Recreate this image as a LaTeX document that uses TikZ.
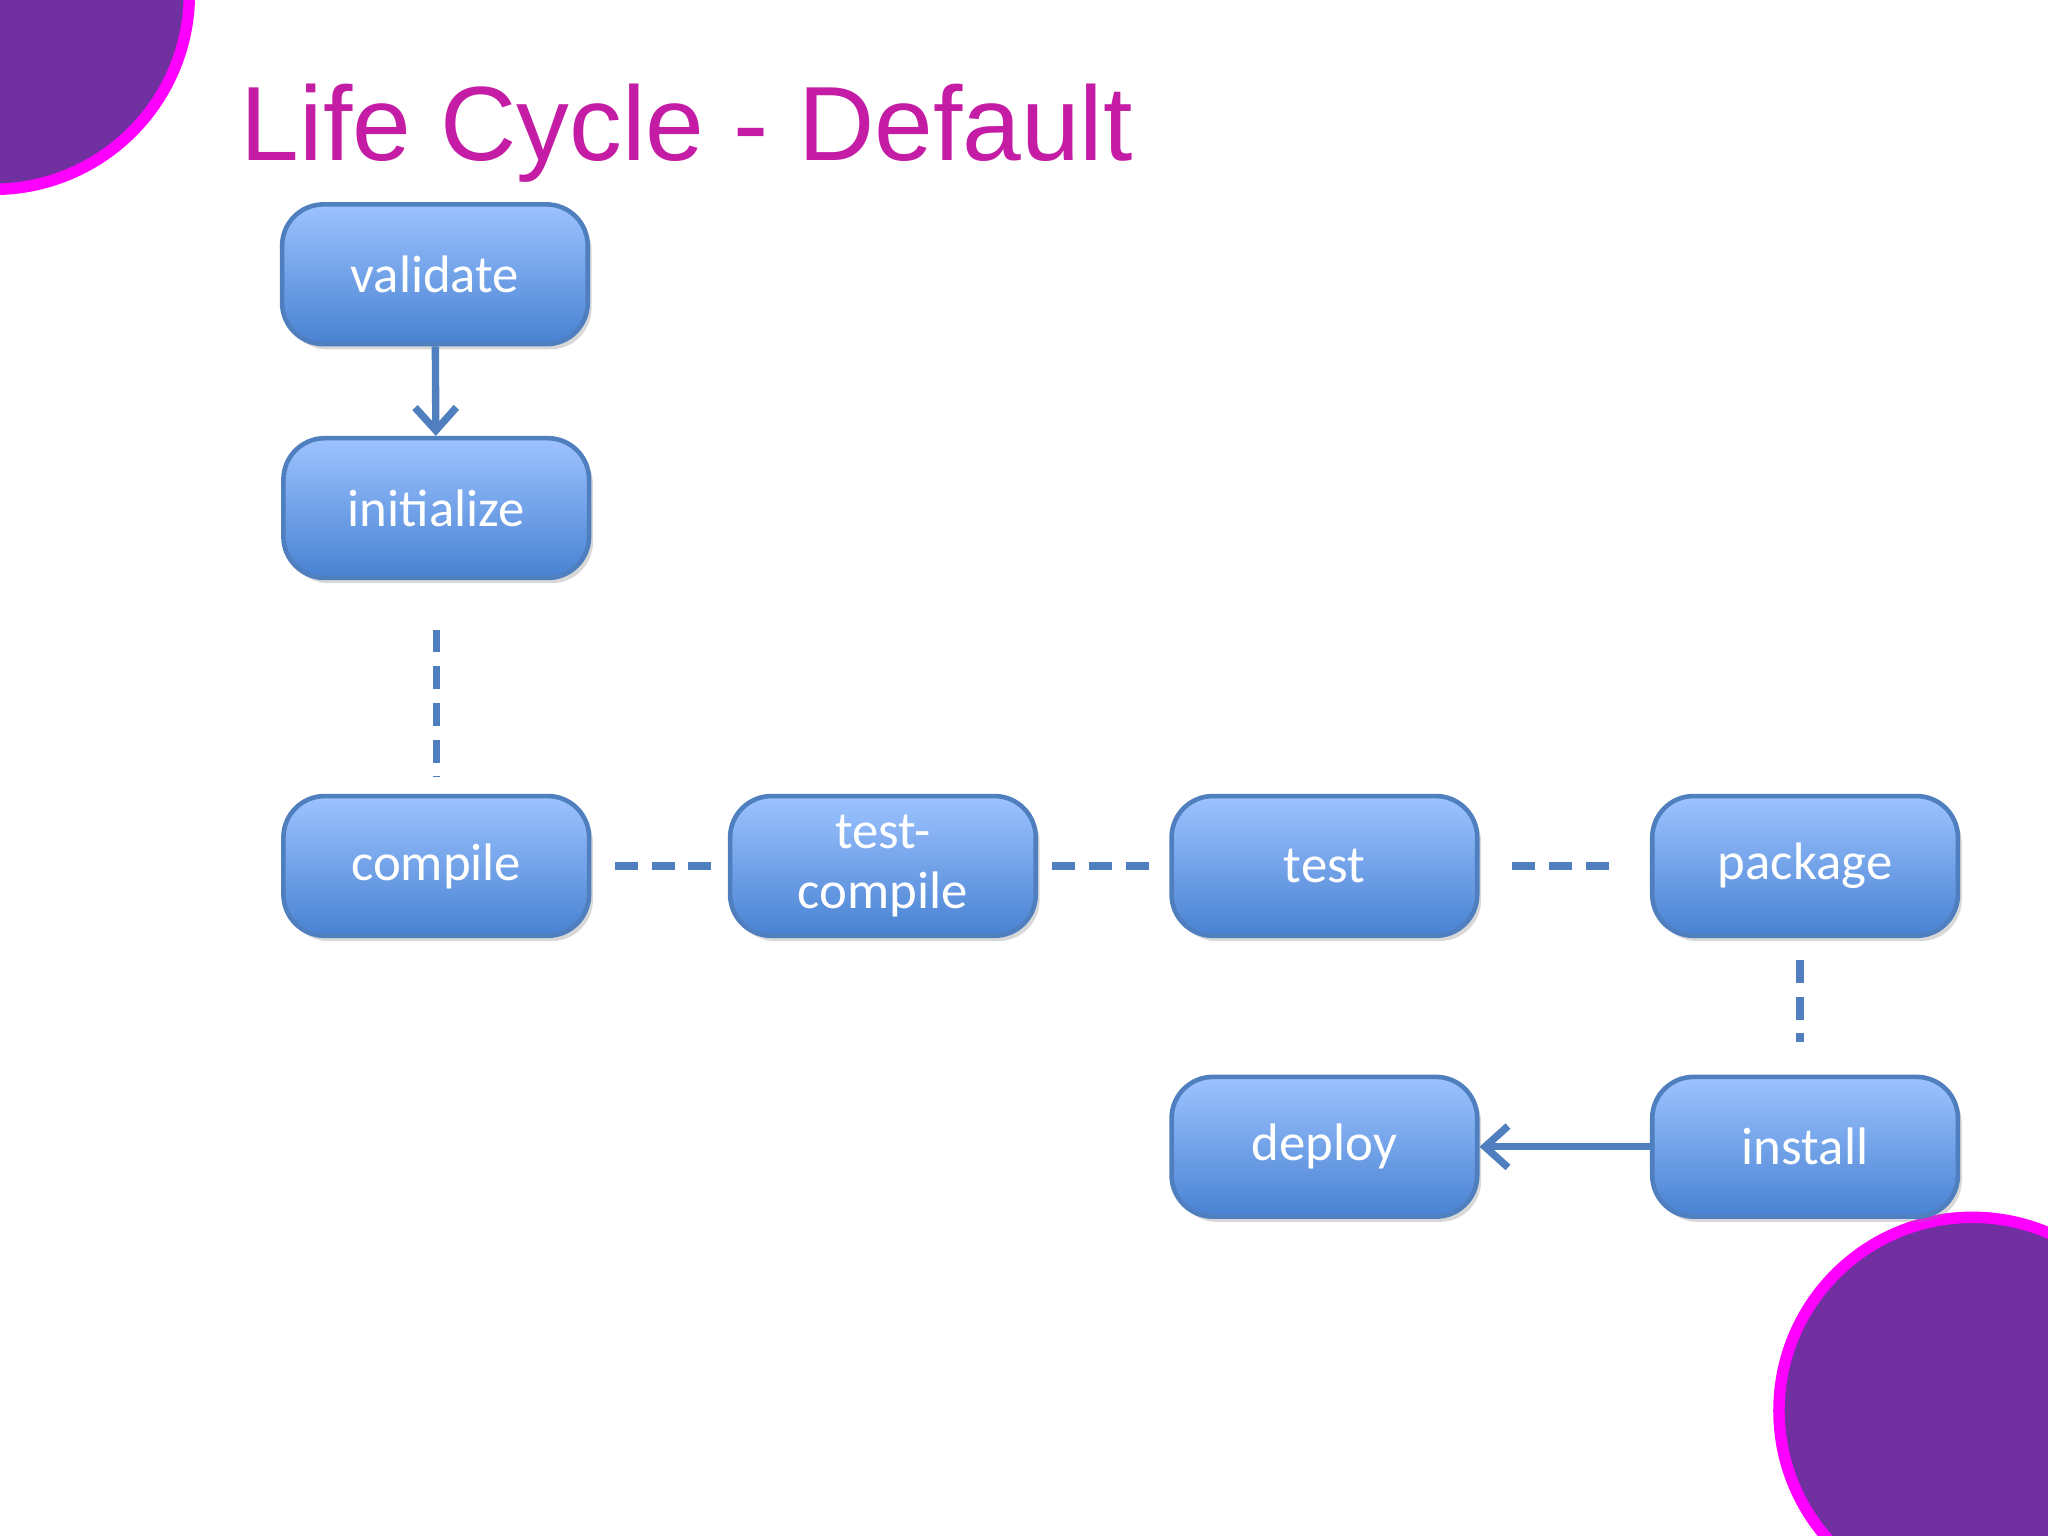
\documentclass[tikz,border=0pt]{standalone}
\usepackage{fontspec}
\setmainfont{Carlito}
\newfontfamily\titlefont{Liberation Sans}
\usetikzlibrary{shadows,arrows.meta}
\definecolor{boxtop}{HTML}{9DC3FF}
\definecolor{boxbot}{HTML}{4882D2}
\definecolor{edge}{HTML}{4F7FBE}
\definecolor{purp}{HTML}{7030A0}
\definecolor{mag}{HTML}{FF00FF}
\definecolor{ttl}{HTML}{C41CA4}
\tikzset{
 box/.style={rounded corners=9pt, draw=edge, line width=1pt, top color=boxtop, bottom color=boxbot,
  minimum width=2.34cm, minimum height=1.07cm, text=white, font=\fontsize{11.5}{13}\selectfont,
  align=center, drop shadow={shadow xshift=0.03cm, shadow yshift=-0.04cm, opacity=0.3}},
 dashline/.style={edge, line width=1.6pt, dash pattern=on 5pt off 3pt},
 arr/.style={edge, line width=1.6pt, -{Straight Barb[length=5pt,width=9pt]}},
 deco/.style={fill=purp, draw=mag, line width=2.5pt}
}
\begin{document}
\begin{tikzpicture}
\useasboundingbox[fill=white] (0,0) rectangle (15.68,-11.76);
\begin{scope}
\clip (0,0) rectangle (15.68,-11.76);
\draw[deco] (-0.05,0.05) circle (1.5);
\draw[deco] (15.10,-10.80) circle (1.48);
\end{scope}
\node[anchor=west, text=ttl, font=\titlefont\fontsize{23}{26}\selectfont] (title) at (1.72,-1.02) {Life Cycle - Default};
\node[box] (validate) at (3.33,-2.10) {validate};
\node[box] (init) at (3.34,-3.89) {initialize};
\node[box] (compile) at (3.34,-6.63) {compile};
\node[box] (tc) at (6.76,-6.63) {test-\\compile};
\node[box] (test) at (10.14,-6.63) {test};
\node[box] (pkg) at (13.82,-6.63) {package};
\node[box] (deploy) at (10.14,-8.78) {deploy};
\node[box] (install) at (13.82,-8.78) {install};
\draw[arr] (validate) -- (init);
\draw[arr] (install) -- (deploy);
\coordinate (a1) at (3.34,-4.82); \coordinate (a2) at (3.34,-5.95);
\draw[dashline] (a1) -- (a2);
\draw[dashline] ([xshift=0.18cm]compile.east) -- ([xshift=-0.09cm]tc.west);
\draw[dashline] ([xshift=0.11cm]tc.east) -- ([xshift=-0.12cm]test.west);
\draw[dashline] ([xshift=0.25cm]test.east) -- ([xshift=-0.28cm]pkg.west);
\coordinate (b1) at (13.78,-7.35); \coordinate (b2) at (13.78,-7.98);
\draw[dashline] (b1) -- (b2);
\end{tikzpicture}
\end{document}
